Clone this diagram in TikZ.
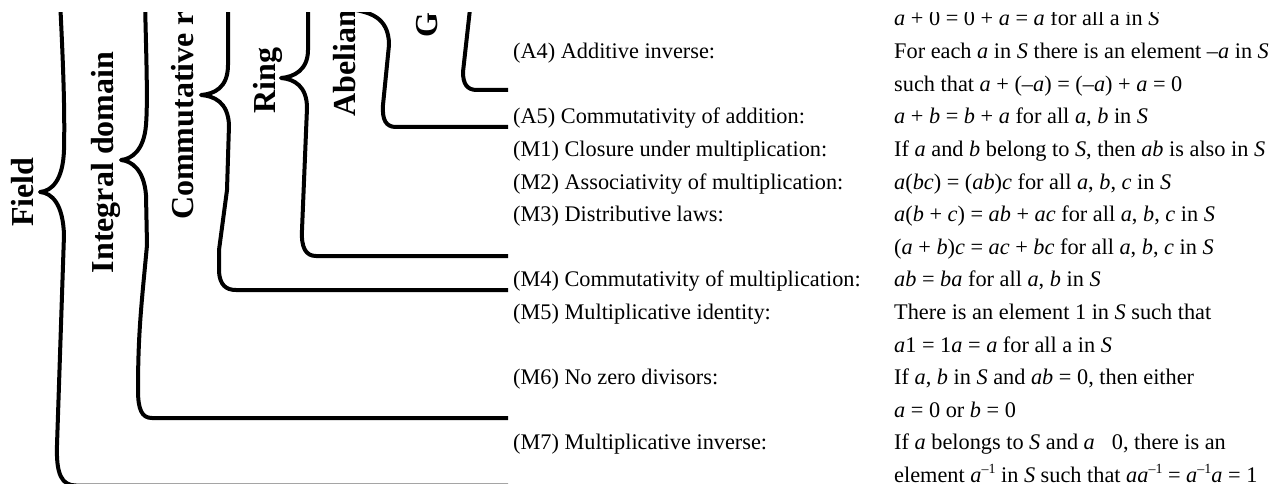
\documentclass[tikz,border=0pt]{standalone}
\usepackage{fontspec}
\setmainfont{Liberation Serif}
\newcommand\mi[1]{\textit{#1}}
\newcommand\sinv{\raisebox{0.42em}{\fontsize{14}{14}\selectfont –1}}
\newcommand\labfont{\fontsize{32}{32}\selectfont\bfseries}
\newcommand\bodyfont{\fontsize{22.3}{26}\selectfont}
\tikzset{
  lbl/.style={rotate=90, inner sep=0pt, font=\labfont},
  prop/.style={anchor=base west, inner sep=0pt, font=\bodyfont},
  bracket/.style={line width=4pt, line join=round}
}
\begin{document}
\begin{tikzpicture}[x=1pt,y=-1pt]
\useasboundingbox[fill=white] (0,0) rectangle (1276,484);
\begin{scope}
\clip (0,13) rectangle (1276,484);

% structure labels, read bottom to top
\node[lbl, anchor=base]      (lbF) at (33,192)   {Field};
\node[lbl, anchor=base]      (lbI) at (113,162.5) {Integral domain};
\node[lbl, anchor=base west] (lbC) at (193,220)  {Commutative ring};
\node[lbl, anchor=base]      (lbR) at (275,80.5) {Ring};
\node[lbl, anchor=base west] (lbA) at (355,117)  {Abelian group};
\node[lbl, anchor=base west] (lbG) at (437,38)   {Group};

% braces grouping the axioms
\draw[bracket] (60,0) .. controls (63,60) and (65,110) .. (64,150)
  .. controls (63,180) and (52,191) .. (40,192)
  .. controls (52,193) and (63,204) .. (64,235)
  -- (57,445) .. controls (56,475) and (62,485.5) .. (76,485.5) -- (508,485.5);
\draw[bracket] (145,0) .. controls (146,50) and (148,100) .. (146,125)
  .. controls (144,150) and (132,159) .. (121,160)
  .. controls (132,161) and (144,170) .. (146,195)
  -- (147,245) .. controls (142,300) and (138,330) .. (138,390)
  .. controls (138,410) and (142,418) .. (152,418) -- (508,418);
\draw[bracket] (228,0) -- (228,65) .. controls (228,88) and (214,94) .. (201,95)
  .. controls (214,96) and (228,102) .. (229,125)
  -- (227,190) -- (219,250) -- (219,272)
  .. controls (220,285) and (226,290) .. (236,290) -- (508,290);
\draw[bracket] (308,0) -- (308,50) .. controls (308,70) and (294,77) .. (281,78)
  .. controls (294,79) and (307,86) .. (307,108)
  -- (302,230) .. controls (301,248) and (306,256) .. (316,256) -- (508,256);
\draw[bracket] (350,9) .. controls (368,12) and (389,16) .. (389,45)
  -- (383,105) .. controls (382,120) and (386,127) .. (396,127) -- (508,127);
\draw[bracket] (471,0) -- (463,72) .. controls (463,84) and (467,90) .. (477,90) -- (508,90);

% axiom names
\node[prop] (p1) at (513,58.6)  {(A4) Additive inverse:};
\node[prop] (p3) at (513,123.8) {(A5) Commutativity of addition:};
\node[prop] (p4) at (513,156.4) {(M1) Closure under multiplication:};
\node[prop] (p5) at (513,189.0) {(M2) Associativity of multiplication:};
\node[prop] (p6) at (513,221.6) {(M3) Distributive laws:};
\node[prop] (p8) at (513,286.8) {(M4) Commutativity of multiplication:};
\node[prop] (p9) at (513,319.4) {(M5) Multiplicative identity:};
\node[prop] (p11) at (513,384.6) {(M6) No zero divisors:};
\node[prop] (p13) at (513,449.8) {(M7) Multiplicative inverse:};

% axiom statements
\node[prop] (q0) at (894,26.0)  {\mi{a} + 0 = 0 + \mi{a} = \mi{a} for all a in \mi{S}};
\node[prop] (q1) at (894,58.6)  {For each \mi{a} in \mi{S} there is an element –\mi{a} in \mi{S}};
\node[prop] (q2) at (894,91.2)  {such that \mi{a} + (–\mi{a}) = (–\mi{a}) + \mi{a} = 0};
\node[prop] (q3) at (894,123.8) {\mi{a} + \mi{b} = \mi{b} + \mi{a} for all \mi{a}, \mi{b} in \mi{S}};
\node[prop] (q4) at (894,156.4) {If \mi{a} and \mi{b} belong to \mi{S}, then \mi{ab} is also in \mi{S}};
\node[prop] (q5) at (894,189.0) {\mi{a}(\mi{bc}) = (\mi{ab})\mi{c} for all \mi{a}, \mi{b}, \mi{c} in \mi{S}};
\node[prop] (q6) at (894,221.6) {\mi{a}(\mi{b} + \mi{c}) = \mi{ab} + \mi{ac} for all \mi{a}, \mi{b}, \mi{c} in \mi{S}};
\node[prop] (q7) at (894,254.2) {(\mi{a} + \mi{b})\mi{c} = \mi{ac} + \mi{bc} for all \mi{a}, \mi{b}, \mi{c} in \mi{S}};
\node[prop] (q8) at (894,286.8) {\mi{ab} = \mi{ba} for all \mi{a}, \mi{b} in \mi{S}};
\node[prop] (q9) at (894,319.4) {There is an element 1 in \mi{S} such that};
\node[prop] (q10) at (894,352.0) {\mi{a}1 = 1\mi{a} = \mi{a} for all a in \mi{S}};
\node[prop] (q11) at (894,384.6) {If \mi{a}, \mi{b} in \mi{S} and \mi{ab} = 0, then either};
\node[prop] (q12) at (894,417.2) {\mi{a} = 0 or \mi{b} = 0};
\node[prop] (q13) at (894,449.8) {If \mi{a} belongs to \mi{S} and \mi{a}\hspace{17pt}0, there is an};
\node[prop] (q14) at (894,482.4) {element \mi{a}\sinv{} in \mi{S} such that \mi{aa}\sinv{} = \mi{a}\sinv\mi{a} = 1};
\end{scope}
\end{tikzpicture}
\end{document}
